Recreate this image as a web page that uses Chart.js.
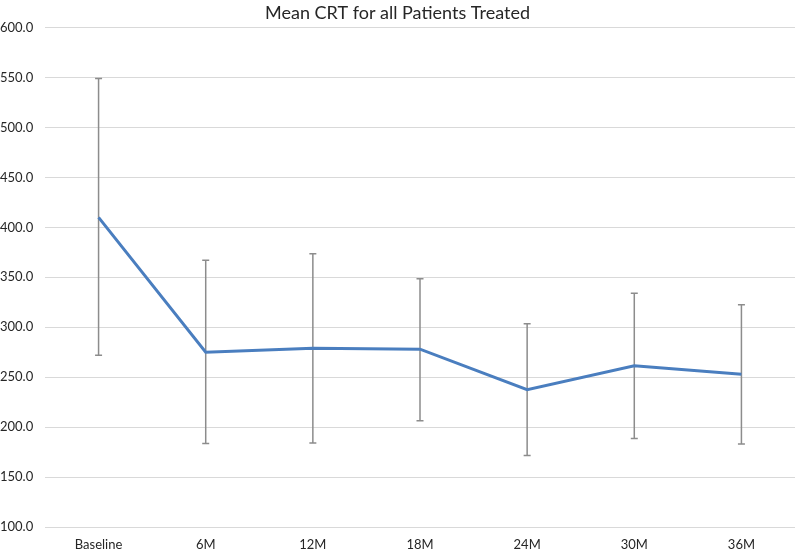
<!DOCTYPE html>
<html>
<head>
<meta charset="utf-8">
<script src="https://cdn.jsdelivr.net/npm/chart.js@4"></script>
<style>
  html, body { margin: 0; padding: 0; background: #fff; }
  #wrap { width: 797px; height: 551px; }
</style>
</head>
<body>
<div id="wrap"><canvas id="crtChart" width="797" height="551"></canvas></div>
<script>
const labels = ['Baseline', '6M', '12M', '18M', '24M', '30M', '36M'];
const meanCRT = [410, 275, 279, 278, 237.5, 261.5, 253];
const upperCRT = [549, 367, 373.5, 348.5, 303.5, 334, 322.5];
const lowerCRT = [272, 183.5, 184, 206.5, 171.5, 188.5, 183];

// whiskers drawn behind the line, from the scales
const errorBars = {
  id: 'errorBars',
  beforeDatasetsDraw(chart) {
    const ctx = chart.ctx;
    const x = chart.scales.x;
    const y = chart.scales.y;
    ctx.save();
    ctx.strokeStyle = '#8c8c8c';
    ctx.lineWidth = 1.5;
    for (let i = 0; i < labels.length; i++) {
      const px = x.getPixelForValue(i);
      const top = y.getPixelForValue(upperCRT[i]);
      const bot = y.getPixelForValue(lowerCRT[i]);
      ctx.beginPath();
      ctx.moveTo(px, top);
      ctx.lineTo(px, bot);
      ctx.moveTo(px - 3.5, top);
      ctx.lineTo(px + 3.5, top);
      ctx.moveTo(px - 3.5, bot);
      ctx.lineTo(px + 3.5, bot);
      ctx.stroke();
    }
    ctx.restore();
  }
};

new Chart(document.getElementById('crtChart'), {
  type: 'line',
  data: {
    labels: labels,
    datasets: [{
      label: 'Mean CRT',
      data: meanCRT,
      borderColor: '#4a7ebf',
      borderWidth: 3,
      pointRadius: 0,
      tension: 0,
      fill: false
    }]
  },
  options: {
    responsive: false,
    animation: false,
    layout: { padding: { left: 0, right: 2, top: 0, bottom: 0 } },
    plugins: {
      legend: { display: false },
      tooltip: { enabled: false },
      title: {
        display: true,
        text: 'Mean CRT for all Patients Treated',
        color: '#262626',
        font: { family: 'Lato', size: 18, weight: 'normal' },
        padding: { top: 2, bottom: 4 }
      }
    },
    scales: {
      x: {
        offset: true,
        grid: { display: false, drawTicks: false, tickLength: 0 },
        border: { display: false },
        ticks: { color: '#262626', font: { family: 'Lato', size: 13 }, padding: 10, maxRotation: 0 },
        afterFit(scale) { scale.height = 24; }
      },
      y: {
        min: 100,
        max: 600,
        grid: { color: '#d9d9d9', lineWidth: 1, drawTicks: false },
        border: { display: false },
        ticks: {
          stepSize: 50,
          color: '#262626',
          font: { family: 'Lato', size: 13 },
          crossAlign: 'far',
          padding: 6,
          callback: v => v.toFixed(1)
        },
        afterFit(scale) { scale.width = 45; }
      }
    }
  },
  plugins: [errorBars]
});
</script>
</body>
</html>
